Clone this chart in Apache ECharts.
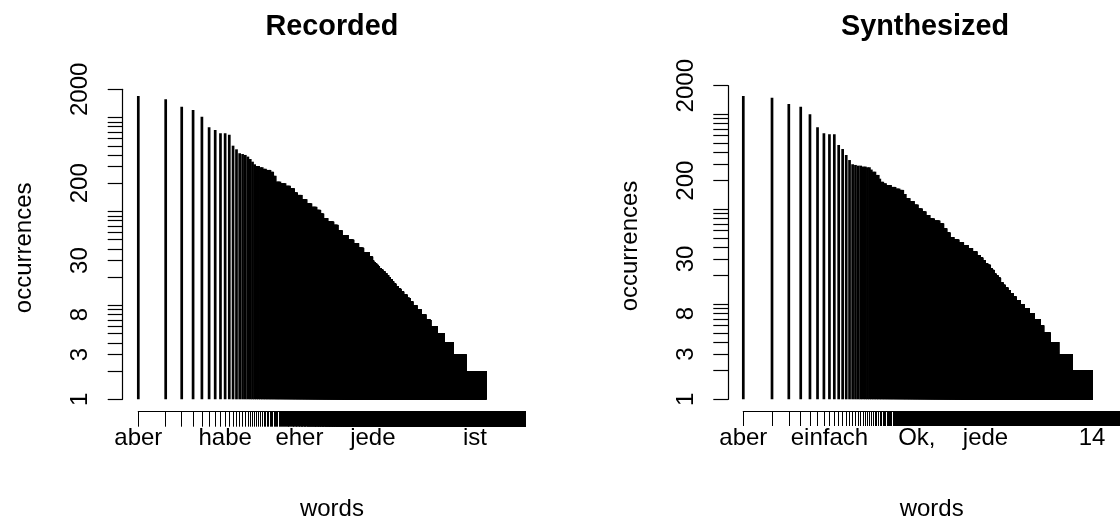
<!DOCTYPE html>
<html><head><meta charset="utf-8">
<script src="https://cdn.jsdelivr.net/npm/echarts@6/dist/echarts.min.js"></script>
<style>html,body{margin:0;padding:0;background:#fff}#c{width:1120px;height:529px}</style>
</head><body><div id="c"></div>
<script>
// ---------- Recorded ----------
const recTopCounts = [1700,1567,1306,1205,1023,789,738,681,681,658];
const recStepStart = [11,12,13,14,15,16,17,18,19,20, 22,24,26,29,31,33,37,42,47,52,
  56,63,71,80,91,100,108,120,139,155, 172,200,230,260,295,340,370,381,395,410,
  425,440,460,480,505,530,555,580,605,630, 665,705,755,810,880,950,1020,1130,1260,1415,
  1605,1900,2250,2850,3890,6451];
const recStepCount = [502,459,417,409,400,384,362,339,318,305, 296,285,277,265,240,208,200,188,177,160,
  150,135,122,112,104,95,85,78,72,63, 56,50,46,41,37,33,30,29,28,27,
  26,25,24,23,22,21,20,19,18,17, 16,15,14,13,12,11,10,9,8,7,
  6,5,4,3,2,1];
const recTotalWords = 18000;
const recLabelRanks = [1,9,59,378,5000];
const recLabelWords = ['aber','habe','eher','jede','ist'];

// ---------- Synthesized ----------
const synTopCounts = [1560,1496,1283,1203,1000,729,631,615,615,475,431,373,330,298];
const synStepStart = [15,16,18,20,22,23,25,27,28,30, 32,36,40,44,48,51,56,62,68,75,
  82,90,100,114,125,135,146,160,180,201, 225,250,278,300,320,340,360,384,400,420,
  440,465,490,520,550,585,620,665,716,789, 869,981,1107,1279,1384,1629,1988,2748,4451];
const synStepCount = [293,288,282,277,262,249,230,210,195,188, 180,172,165,160,145,131,122,112,102,95,
  87,80,76,71,63,57,51,48,45,42, 39,36,33,31,29,27,26,24,23,21,
  20,19,17,16,15,14,13,12,11,10, 9,8,7,6,5,4,3,2,1];
const synTotalWords = 8900;
const synLabelRanks = [1,8,66,346,4540];
const synLabelWords = ['aber','einfach','Ok,','jede','14'];

// ---------- shared axis ticks ----------
const yTickValues = [1,2,3,4,5,6,7,8,9,10,20,30,40,50,60,70,80,90,100,200,300,400,500,600,700,800,900,1000,2000];
const yLabelValues = [1,3,8,30,200,2000];
const panelTitles = ['Recorded','Synthesized'];
const xName = 'words', yName = 'occurrences';

// run-length decode of the step table
function decode(top, starts, counts, total) {
  const out = [];
  top.forEach((c, i) => out.push([i + 1, c]));
  for (let k = 0; k < starts.length; k++) {
    const end = k + 1 < starts.length ? starts[k + 1] - 1 : total;
    for (let r = starts[k]; r <= end; r++) out.push([r, counts[k]]);
  }
  return out;
}
const recData = decode(recTopCounts, recStepStart, recStepCount, recTotalWords);
const synData = decode(synTopCounts, synStepStart, synStepCount, synTotalWords);
const rankList = n => Array.from({length: n}, (_, i) => i + 1);

const FONT = 'Liberation Sans, Arial, Helvetica, sans-serif';

function renderBar(params, api) {
  const r = api.value(0), c = api.value(1);
  if (c <= 1) return null;
  const p0 = api.coord([r, 1]);
  const p1 = api.coord([r, c]);
  return { type: 'line', silent: true,
    shape: { x1: p0[0], y1: p0[1], x2: p1[0], y2: p1[1] },
    style: { stroke: '#000', lineWidth: 2.7 } };
}

function xAxisFor(idx, total, labelRanks, labelWords, offset) {
  return {
    type: 'log', logBase: 10, gridIndex: idx, min: 1, max: total, offset: offset,
    axisLine: { show: true, lineStyle: { color: '#000', width: 1.2 } },
    axisTick: { show: true, length: 15, customValues: rankList(total), lineStyle: { color: '#000', width: 1 } },
    axisLabel: { customValues: labelRanks, margin: 15, fontSize: 24, color: '#000', fontFamily: FONT,
      formatter: v => { const i = labelRanks.indexOf(Math.round(v)); return i >= 0 ? labelWords[i] : ''; } },
    splitLine: { show: false },
    name: xName, nameLocation: 'middle', nameGap: 86,
    nameTextStyle: { fontSize: 24, color: '#000', fontFamily: FONT }
  };
}
function yAxisFor(idx, offset) {
  return {
    type: 'log', logBase: 10, gridIndex: idx, min: 1, max: 2000, offset: offset,
    axisLine: { show: true, lineStyle: { color: '#000', width: 1.2 } },
    axisTick: { show: true, length: 15, customValues: yTickValues, lineStyle: { color: '#000', width: 1.2 } },
    axisLabel: { customValues: yLabelValues, rotate: 90, margin: 30, fontSize: 24, color: '#000', fontFamily: FONT,
      formatter: v => String(Math.round(v)) },
    splitLine: { show: false },
    name: yName, nameLocation: 'middle', nameGap: 86,
    nameTextStyle: { fontSize: 24, color: '#000', fontFamily: FONT, padding: [0, 7, 0, 0] }
  };
}

const chart = echarts.init(document.getElementById('c'), null, { renderer: 'canvas' });
chart.setOption({
  backgroundColor: '#fff',
  animation: false,
  grid: [
    { left: 138.3, top: 89.3, width: 387.2, height: 310, containLabel: false },
    { left: 743.3, top: 85.7, width: 377.2, height: 313.6, containLabel: false }
  ],
  xAxis: [
    xAxisFor(0, recTotalWords, recLabelRanks, recLabelWords, 12.4),
    xAxisFor(1, synTotalWords, synLabelRanks, synLabelWords, 11.7)
  ],
  yAxis: [ yAxisFor(0, 15.6), yAxisFor(1, 15.0) ],
  graphic: [
    { type: 'text', x: 331.9, y: 27, style: { text: panelTitles[0], textAlign: 'center', textVerticalAlign: 'middle',
      font: 'bold 28.8px ' + FONT, fill: '#000' } },
    { type: 'text', x: 925, y: 27, style: { text: panelTitles[1], textAlign: 'center', textVerticalAlign: 'middle',
      font: 'bold 28.8px ' + FONT, fill: '#000' } }
  ],
  series: [
    { type: 'custom', name: panelTitles[0], xAxisIndex: 0, yAxisIndex: 0, data: recData, renderItem: renderBar, clip: false, progressive: 0 },
    { type: 'custom', name: panelTitles[1], xAxisIndex: 1, yAxisIndex: 1, data: synData, renderItem: renderBar, clip: false, progressive: 0 }
  ]
});
</script></body></html>
